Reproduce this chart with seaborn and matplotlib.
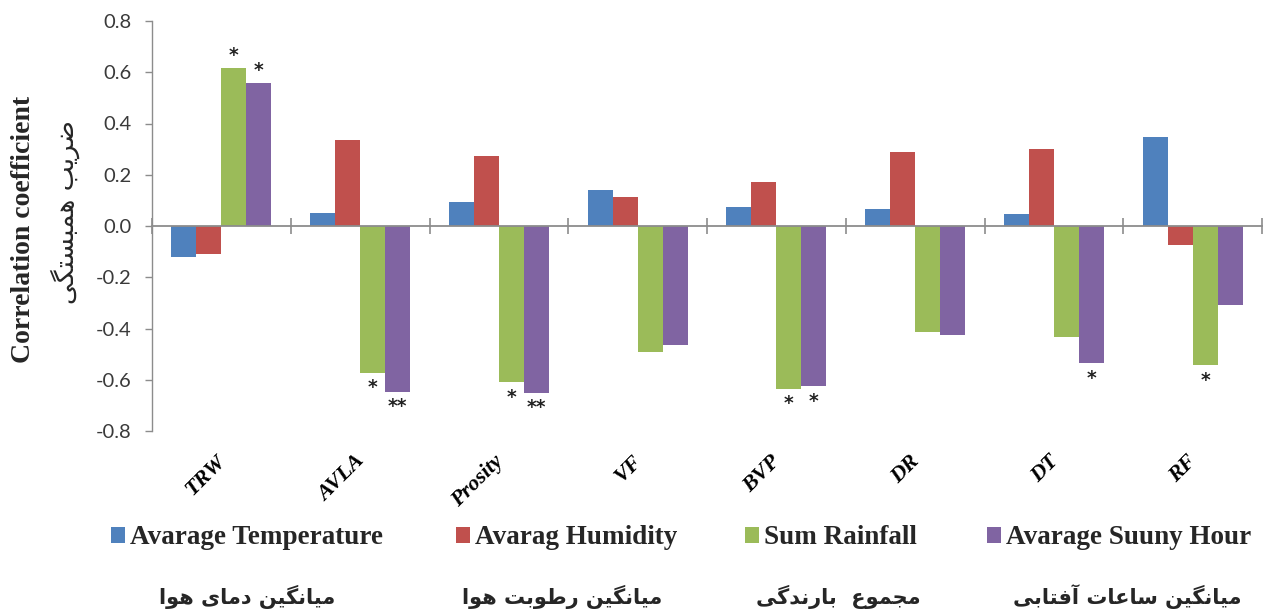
import numpy as np
import pandas as pd
import matplotlib
matplotlib.use("Agg")
import matplotlib.pyplot as plt
from matplotlib.patches import Patch
import seaborn as sns

# ---- data -------------------------------------------------------------
categories = ["TRW", "AVLA", "Prosity", "VF", "BVP", "DR", "DT", "RF"]
series_names = ["Avarage Temperature", "Avarag Humidity", "Sum Rainfall", "Avarage Suuny Hour"]
series_fa = ["میانگین دمای هوا", "میانگین رطوبت هوا", "مجموع  بارندگی", "میانگین ساعات آفتابی"]

temperature = [-0.12, 0.05, 0.095, 0.14, 0.075, 0.068, 0.046, 0.348]
humidity = [-0.11, 0.336, 0.275, 0.115, 0.172, 0.289, 0.302, -0.073]
rainfall = [0.616, -0.573, -0.61, -0.49, -0.635, -0.414, -0.434, -0.544]
sunny = [0.557, -0.647, -0.65, -0.466, -0.625, -0.424, -0.535, -0.31]

# significance marks (same order as the categories)
sig_temperature = ["", "", "", "", "", "", "", ""]
sig_humidity = ["", "", "", "", "", "", "", ""]
sig_rainfall = ["*", "*", "*", "", "*", "", "", "*"]
sig_sunny = ["*", "**", "**", "", "*", "", "*", ""]

y_ticks = [-0.8, -0.6, -0.4, -0.2, 0.0, 0.2, 0.4, 0.6, 0.8]
y_label_en = "Correlation coefficient"
y_label_fa = "ضریب همبستگی"

colors = ["#4F81BD", "#C0504D", "#9BBB59", "#8064A2"]

# ---- Persian shaping (contextual forms, right-to-left order) -----------
FORMS = {
    "ا": ("\uFE8D", "\uFE8E", None, None),
    "آ": ("\uFE81", "\uFE82", None, None),
    "ب": ("\uFE8F", "\uFE90", "\uFE91", "\uFE92"),
    "ت": ("\uFE95", "\uFE96", "\uFE97", "\uFE98"),
    "ج": ("\uFE9D", "\uFE9E", "\uFE9F", "\uFEA0"),
    "د": ("\uFEA9", "\uFEAA", None, None),
    "ر": ("\uFEAD", "\uFEAE", None, None),
    "س": ("\uFEB1", "\uFEB2", "\uFEB3", "\uFEB4"),
    "ض": ("\uFEBD", "\uFEBE", "\uFEBF", "\uFEC0"),
    "ط": ("\uFEC1", "\uFEC2", "\uFEC3", "\uFEC4"),
    "ع": ("\uFEC9", "\uFECA", "\uFECB", "\uFECC"),
    "ف": ("\uFED1", "\uFED2", "\uFED3", "\uFED4"),
    "م": ("\uFEE1", "\uFEE2", "\uFEE3", "\uFEE4"),
    "ن": ("\uFEE5", "\uFEE6", "\uFEE7", "\uFEE8"),
    "ه": ("\uFEE9", "\uFEEA", "\uFEEB", "\uFEEC"),
    "و": ("\uFEED", "\uFEEE", None, None),
    "ی": ("\uFBFC", "\uFBFD", "\uFBFE", "\uFBFF"),
    "گ": ("\uFB92", "\uFB93", "\uFB94", "\uFB95"),
}


def shape_fa(text):
    chars = list(text)
    out = []
    for i, ch in enumerate(chars):
        if ch not in FORMS:
            out.append(ch)
            continue
        iso, fin, ini, med = FORMS[ch]
        prev = chars[i - 1] if i > 0 else None
        nxt = chars[i + 1] if i + 1 < len(chars) else None
        join_prev = prev in FORMS and FORMS[prev][2] is not None
        join_next = ini is not None and nxt in FORMS
        if join_prev and join_next:
            out.append(med)
        elif join_prev:
            out.append(fin)
        elif join_next:
            out.append(ini)
        else:
            out.append(iso)
    return "".join(reversed(out))


# ---- long-form table --------------------------------------------------
values = [temperature, humidity, rainfall, sunny]
marks = [sig_temperature, sig_humidity, sig_rainfall, sig_sunny]
df = pd.DataFrame({
    "category": np.tile(categories, len(series_names)),
    "series": np.repeat(series_names, len(categories)),
    "value": np.concatenate(values),
})

sns.set_theme(style="white")
plt.rcParams["font.family"] = ["DejaVu Sans"]

W, H = 1269, 614
fig = plt.figure(figsize=(W / 100, H / 100), dpi=100)
ax = fig.add_axes([152 / W, 1 - 431 / H, (1262 - 152) / W, (431 - 21) / H])

sns.barplot(data=df, x="category", y="value", hue="series", order=categories,
            hue_order=series_names, palette=colors, width=0.72, saturation=1,
            linewidth=0, legend=False, ax=ax)

ax.set_xlim(-0.5, len(categories) - 0.5)
ax.set_ylim(y_ticks[0], y_ticks[-1])
ax.set_xlabel("")
ax.set_ylabel("")

axis_grey = "#8C8C8C"
for s in ("top", "right"):
    ax.spines[s].set_visible(False)
ax.spines["bottom"].set_position(("data", 0))
ax.spines["bottom"].set_color(axis_grey)
ax.spines["bottom"].set_linewidth(1.3)
ax.spines["left"].set_color(axis_grey)
ax.spines["left"].set_linewidth(1.0)

# y axis ticks
ax.set_yticks(y_ticks)
ax.set_yticklabels([f"{t:.1f}" for t in y_ticks], family="Lato", fontsize=14.5,
                   color="#3A3A3A")
ax.tick_params(axis="y", direction="out", length=5, width=1, color=axis_grey,
               pad=10, left=True)

# category separators on the zero line
ax.set_xticks(np.arange(len(categories) + 1) - 0.5)
ax.set_xticklabels([])
ax.tick_params(axis="x", direction="inout", length=11, width=1.2,
               color=axis_grey, bottom=True)

# category names under the plot
for i, cat in enumerate(categories):
    ax.annotate(cat, xy=(i, 0), xycoords=("data", "axes fraction"),
                xytext=(1, -20), textcoords="offset points",
                ha="right", va="center", rotation=45, rotation_mode="anchor",
                family="Liberation Serif", fontweight="bold", fontstyle="italic",
                fontsize=16, color="black")

# significance marks beside each bar end
for k, cont in enumerate(ax.containers):
    for j, bar in enumerate(cont):
        m = marks[k][j]
        if not m:
            continue
        v = values[k][j]
        xc = bar.get_x() + bar.get_width() / 2
        ax.annotate(m, xy=(xc, v), xytext=(0, 2 if v > 0 else -4),
                    textcoords="offset points", ha="center",
                    va="bottom" if v > 0 else "top", fontsize=13.5,
                    fontweight="bold", color="#222222")

# axis titles
fig.text(24 / W, 1 - 229 / H, y_label_en, rotation=90, ha="center", va="center",
         family="Liberation Serif", fontweight="bold", fontsize=20)
fig.text(65 / W, 1 - 212 / H, shape_fa(y_label_fa), rotation=90, ha="center",
         va="center", family="DejaVu Sans", fontsize=19)

# legend: one entry per series, placed side by side
legend_left = [111, 456, 745, 987]
for x, c, name in zip(legend_left, colors, series_names):
    fig.legend([Patch(facecolor=c, edgecolor="none")], [name],
               loc="center left", bbox_to_anchor=(x / W, 1 - 538 / H),
               frameon=False, borderpad=0, borderaxespad=0,
               prop={"family": "Liberation Serif", "weight": "bold", "size": 19.5},
               handlelength=0.52, handleheight=0.55, handletextpad=0.18)

# Persian series names
fa_x = [247, 562, 838, 1127]
for x, txt in zip(fa_x, series_fa):
    fig.text(x / W, 1 - 597 / H, shape_fa(txt), ha="center", va="center",
             family="DejaVu Sans", fontweight="bold", fontsize=15)

fig.savefig("out.png", dpi=100, facecolor="white")
